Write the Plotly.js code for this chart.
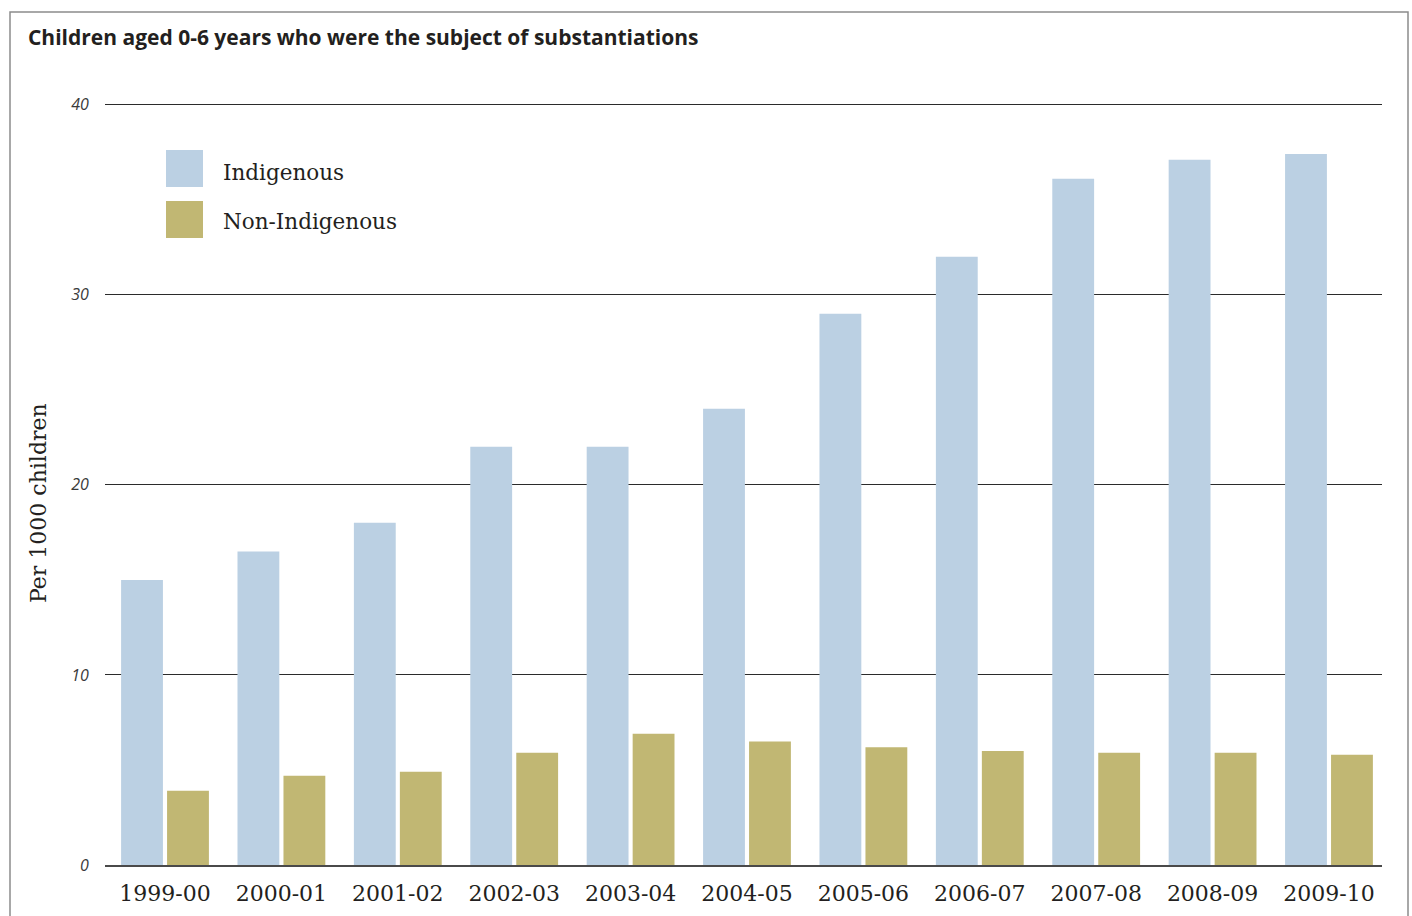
<!DOCTYPE html>
<html>
<head>
<meta charset="utf-8">
<script src="https://cdn.plot.ly/plotly-3.0.1.min.js"></script>
<style>html,body{margin:0;padding:0;background:#fff;}#chart{width:1412px;height:916px;}</style>
</head>
<body>
<div id="chart"></div>
<script>
var categories = ["1999-00","2000-01","2001-02","2002-03","2003-04","2004-05","2005-06","2006-07","2007-08","2008-09","2009-10"];
var indigenous = [15.0, 16.5, 18.0, 22.0, 22.0, 24.0, 29.0, 32.0, 36.1, 37.1, 37.4];
var nonIndigenous = [3.9, 4.7, 4.9, 5.9, 6.9, 6.5, 6.2, 6.0, 5.9, 5.9, 5.8];
var seriesNames = ["Indigenous", "Non-Indigenous"];
var yTicks = [0, 10, 20, 30, 40];
var chartTitle = "Children aged 0-6 years who were the subject of substantiations";
var yTitle = "Per 1000 children";

var colors = ["#BBD0E3", "#C1B773"];
var serif = "DejaVu Serif, serif";

var traces = [
  {type: "bar", name: seriesNames[0], x: categories, y: indigenous, marker: {color: colors[0]}, showlegend: false, hoverinfo: "x+y+name"},
  {type: "bar", name: seriesNames[1], x: categories, y: nonIndigenous, marker: {color: colors[1]}, showlegend: false, hoverinfo: "x+y+name"}
];

// plot area: left 105, right 1382, top 99, bottom 865 (766 px high)
function px2py(p) { return (865 - p) / 766; }
function px2px(p) { return (p - 105) / 1277; }

var legShapes = [], legAnn = [];
var swTop = [150, 201];
var txtMid = [172, 221];
for (var i = 0; i < 2; i++) {
  legShapes.push({type: "rect", xref: "paper", yref: "paper", x0: px2px(166), x1: px2px(203), y0: px2py(swTop[i] + 37), y1: px2py(swTop[i]), fillcolor: colors[i], line: {width: 0}});
  legAnn.push({xref: "paper", yref: "paper", x: px2px(221), y: px2py(txtMid[i]), xanchor: "left", yanchor: "middle", showarrow: false, text: seriesNames[i], font: {family: serif, size: 21.5, color: "#231f20"}});
}
legAnn.push({xref: "paper", yref: "paper", x: px2px(38), y: px2py(503), xanchor: "center", yanchor: "middle", textangle: -90, showarrow: false, text: yTitle, font: {family: serif, size: 22, color: "#231f20"}});
legShapes.push({type: "rect", xref: "paper", yref: "paper", x0: px2px(10), x1: px2px(1408), y0: px2py(925), y1: px2py(12), line: {color: "#8c8c8c", width: 1.5}, fillcolor: "rgba(0,0,0,0)", layer: "below"});

var layout = {
  width: 1412, height: 916,
  paper_bgcolor: "#ffffff", plot_bgcolor: "#ffffff",
  margin: {l: 105, r: 30, t: 99, b: 51},
  title: {text: "<b>" + chartTitle + "</b>", x: 0.0198, xref: "container", xanchor: "left", y: 0.9585, yref: "container", yanchor: "middle",
          font: {family: "Open Sans, sans-serif", size: 21, color: "#231f20"}},
  barmode: "group", bargap: 0.21, bargroupgap: 0.09,
  xaxis: {type: "category", range: [-0.5155, 10.4555], showgrid: false, showline: true, linecolor: "#4a4a4a", linewidth: 1.5,
          ticks: "outside", ticklen: 8, tickcolor: "rgba(0,0,0,0)",
          tickfont: {family: serif, size: 22, color: "#231f20"}},
  yaxis: {range: [0, 40.3], tickvals: yTicks, ticktext: yTicks.map(String), showgrid: true, gridcolor: "#2b2b2b", gridwidth: 1,
          zeroline: false, showline: false, ticks: "outside", ticklen: 12, tickcolor: "rgba(0,0,0,0)",
          tickfont: {family: "Open Sans, sans-serif", size: 16, color: "#3a3a3a", style: "italic"}},
  shapes: legShapes,
  annotations: legAnn,
  showlegend: false
};

Plotly.newPlot("chart", traces, layout, {displayModeBar: false, staticPlot: true});
</script>
</body>
</html>
